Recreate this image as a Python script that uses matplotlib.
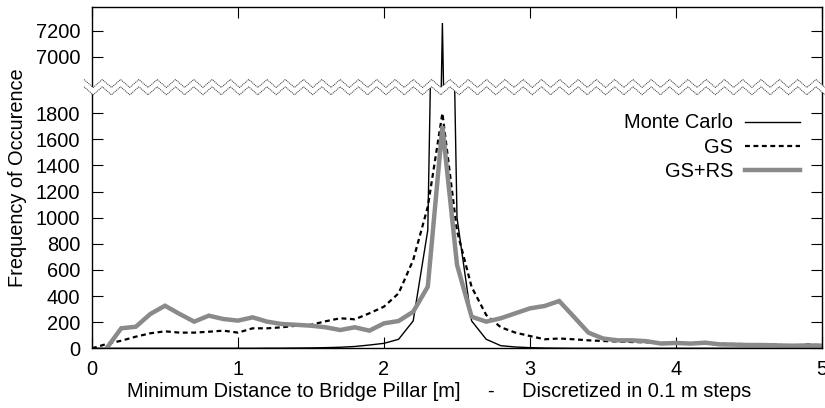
import numpy as np
import matplotlib
matplotlib.use("Agg")
import matplotlib.pyplot as plt
from matplotlib.patches import Polygon
from matplotlib.lines import Line2D

plt.rcParams['font.family'] = ['Liberation Sans', 'DejaVu Sans']

# ---------------- data ----------------
dist = np.round(np.arange(0, 51) * 0.1, 1)  # 0.0 .. 5.0 m, 0.1 m bins

monte_carlo = [0, 0, 0, 0, 0, 0, 0, 0, 0, 0,
               0, 0, 1, 1, 2, 3, 5, 8, 14, 25,
               38, 69, 210, 906, 7260, 1000, 210, 69, 20, 10,
               5, 2, 1, 0, 0, 0, 0, 0, 0, 0,
               0, 0, 0, 0, 0, 0, 0, 0, 0, 0, 0]

gs = [0, 33, 58, 89, 115, 130, 120, 120, 127, 135,
      120, 153, 153, 161, 173, 180, 207, 230, 222, 268,
      319, 421, 676, 1084, 1800, 900, 470, 255, 161, 120,
      94, 69, 75, 69, 61, 56, 52, 48, 46, 42,
      40, 38, 36, 35, 33, 32, 30, 27, 18, 30, 24]

gs_rs = [np.nan, 0, 153, 165, 263, 326, 263, 204, 250, 224,
         212, 237, 204, 186, 180, 173, 161, 140, 161, 135,
         191, 209, 280, 472, 1700, 640, 242, 204, 230, 268,
         306, 324, 362, 242, 120, 75, 61, 61, 54, 36,
         41, 36, 43, 30, 28, 25, 25, 22, 20, 22, 20]

series_labels = ["Monte Carlo", "GS", "GS+RS"]
low_yticks = [0, 200, 400, 600, 800, 1000, 1200, 1400, 1600, 1800]
up_yticks = [7000, 7200]
xticks = [0, 1, 2, 3, 4, 5]
xlabel = "Minimum Distance to Bridge Pillar [m]     -     Discretized in 0.1 m steps"
ylabel = "Frequency of Occurence"

# ---------------- layout ----------------
W, H = 825, 408
fig = plt.figure(figsize=(W / 100, H / 100), dpi=100)

def fx(px):
    return px / W

def fy(py):
    return 1 - py / H

L, R, B, T, BRK = 92, 822, 348.3, 6.7, 87.0
px_per_unit = 0.1306
low_top = (B - BRK) / px_per_unit
up_bot = 6770
up_top = up_bot + (BRK - T) / px_per_unit

ax_low = fig.add_axes([fx(L), fy(B), (R - L) / W, (B - BRK) / H])
ax_up = fig.add_axes([fx(L), fy(BRK), (R - L) / W, (BRK - T) / H])

styles = [dict(color='black', lw=1.0),
          dict(color='black', lw=1.6, dashes=(2.2, 1.6)),
          dict(color='#8a8a8a', lw=3.2)]

handles = []
for ax in (ax_low, ax_up):
    hs = []
    for data, st, lab in zip([monte_carlo, gs, gs_rs], styles, series_labels):
        h, = ax.plot(dist, data, label=lab, solid_joinstyle='miter', **st)
        hs.append(h)
    handles = hs if ax is ax_low else handles
    ax.set_xlim(0, 5)
    ax.set_xticks(xticks)
    for s in ax.spines.values():
        s.set_linewidth(1.0)

ax_low.set_ylim(0, low_top)
ax_up.set_ylim(up_bot, up_top)

tick_kw = dict(direction='in', length=8, width=0.8, labelsize=14.4, pad=8.5)
ax_low.tick_params(axis='both', which='major', left=True, right=True,
                   bottom=True, top=False, **tick_kw)
ax_up.tick_params(axis='both', which='major', left=True, right=True,
                  bottom=False, top=True, labelbottom=False, **tick_kw)
ax_low.set_yticks(low_yticks)
ax_up.set_yticks(up_yticks)
ax_low.spines['top'].set_visible(False)
ax_up.spines['bottom'].set_visible(False)

ax_low.set_xlabel(xlabel, fontsize=14.4, labelpad=5)
ax_low.xaxis.set_label_coords((439 - L) / (R - L), -0.13)
fig.text(fx(18), fy((T + B) / 2), ylabel, rotation=90, fontsize=14.4,
         ha='center', va='center')

leg = ax_low.legend(handles, series_labels, markerfirst=False, frameon=False,
                    loc='upper right', bbox_to_anchor=(fx(800), fy(113.5)),
                    bbox_transform=fig.transFigure, fontsize=14.4,
                    handlelength=2.75, handletextpad=0.6, labelspacing=0.26,
                    borderaxespad=0, borderpad=0)
for t in leg.get_texts():
    t.set_ha('right')

# ---------------- axis break (zigzag) ----------------
period = 18.3
xs = np.arange(84, 840, period / 2)
n = len(xs)
up_line_y = np.where(np.arange(n) % 2 == 0, 79.5, 87.5)
lo_line_y = up_line_y + 7.3
up_pts = [(fx(x), fy(y)) for x, y in zip(xs, up_line_y)]
lo_pts = [(fx(x), fy(y)) for x, y in zip(xs, lo_line_y)]
poly = Polygon(up_pts + lo_pts[::-1], closed=True, facecolor='white',
               edgecolor='none', transform=fig.transFigure, zorder=5)
fig.add_artist(poly)
for pts in (up_pts, lo_pts):
    xx, yy = zip(*pts)
    fig.add_artist(Line2D(xx, yy, transform=fig.transFigure, color='#444444',
                          lw=0.7, linestyle=(0, (1.2, 0.8)), zorder=6))

fig.savefig("out.png", dpi=100)
